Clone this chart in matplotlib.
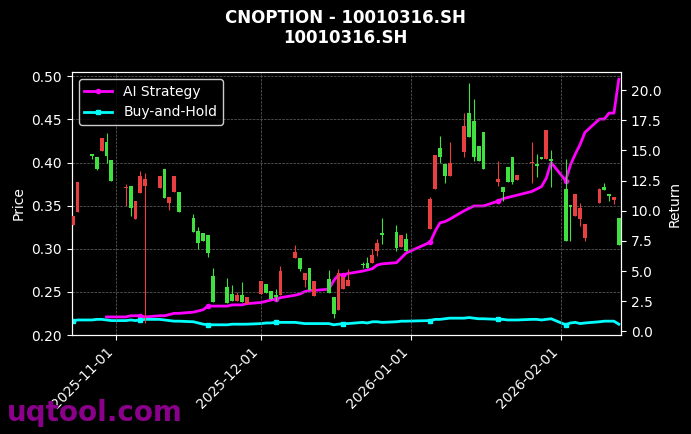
import numpy as np
import pandas as pd
import matplotlib
matplotlib.use("Agg")
import matplotlib.pyplot as plt
import matplotlib.dates as mdates

dates = [d for d in pd.bdate_range("2025-10-23", "2026-02-13")
         if d not in (pd.Timestamp("2026-01-01"), pd.Timestamp("2026-01-02"))]

# (color, body top, body bottom, high, low) ; None -> body edge
candles = [
 ("R",.338,.328,None,None),("R",.378,.343,None,None),("G",.409,.408,.410,.404),("G",.406,.393,None,.391),
 ("R",.429,.413,None,None),("G",.424,.408,.434,.399),("G",.403,.379,None,None),
 ("R",.372,.370,.375,.350),("G",.373,.347,None,.338),("R",.356,.335,None,None),("R",.385,.365,.390,None),("R",.381,.373,.388,.214),
 ("R",.384,.371,None,None),("G",.393,.359,None,None),("R",.360,.353,None,.345),("R",.385,.366,None,None),("G",.366,.343,None,None),
 ("G",.336,.320,.340,None),("G",.321,.307,.325,.300),("G",.318,.309,None,None),("G",.316,.295,None,.290),("G",.269,.238,.278,None),
 ("G",.256,.237,.266,None),("G",.248,.240,.258,None),("R",.247,.240,.250,None),("G",.247,.238,.262,None),("R",.244,.236,None,None),
 ("R",.263,.248,None,None),("G",.259,.249,None,None),("G",.251,.242,None,None),("G",.246,.244,.253,.240),("R",.274,.247,.280,None),
 ("R",.296,.289,.304,None),("G",.289,.277,None,.274),("R",.272,.264,None,.256),("G",.278,.252,None,None),("R",.263,.245,None,None),
 ("G",.265,.249,.275,None),("G",.244,.224,None,.220),("R",.272,.229,.277,None),("R",.267,.253,None,None),("R",.264,.257,.277,None),
 ("G",.282,.281,.285,.278),("G",.283,.278,.290,None),("R",.293,.284,.300,None),("R",.307,.297,.311,.292),("G",.318,.316,.336,.306),
 ("G",.319,.301,.328,.298),("R",.316,.302,None,None),("G",.311,.298,.318,None),
 ("R",.358,.323,.360,None),("R",.409,.369,None,None),("G",.417,.407,.431,.399),("G",.398,.384,None,.376),("R",.400,.384,.424,None),
 ("R",.442,.412,.458,.406),("G",.457,.430,.492,None),("G",.448,.407,.474,.402),("G",.419,.402,None,None),("G",.435,.393,None,None),
 ("R",.381,.378,.402,.373),("G",.372,.366,None,.356),("G",.395,.378,None,None),("G",.406,.378,None,.375),("R",.386,.380,None,None),
 ("R",.401,.399,.424,.376),("G",.398,.396,.410,.383),("G",.406,.404,None,None),("R",.438,.404,None,None),("G",.404,.402,.415,.372),
 ("G",.369,.309,.404,None),("G",.351,.349,.351,.309),("R",.363,.338,None,None),("R",.347,.335,.353,.327),("R",.329,.312,None,.309),
 ("R",.369,.353,.370,None),("G",.372,.368,.376,None),("G",.363,.361,None,.356),("R",.360,.357,None,.352),("G",.336,.305,None,None),
]

ai_ret = [np.nan]*5 + [1.2,1.2,
 1.2,1.3,1.3,1.3,1.2, 1.3,1.3,1.4,1.5,1.5, 1.6,1.7,1.8,2.1,2.1, 2.1,2.2,2.2,2.2,2.3,
 2.4,2.5,2.6,2.7,2.8, 3.0,3.1,3.3,3.4,3.4, 3.5,4.2,4.7,4.7,4.8, 5.0,5.1,5.2,5.5,5.6, 5.7,6.1,6.5,
 7.4,8.3,9.0,9.1,9.3, 10.0,10.2,10.4,10.4,10.4, 10.8,11.0,11.1,11.2,11.3, 11.6,11.8,12.0,12.7,14.0,
 12.5,13.8,14.7,15.5,16.5, 17.6,17.6,18.1,18.1,20.9]
bh_ret = [0.85,0.95,0.95,1.0,1.0,0.95,0.9,
 0.9,0.95,0.9,0.95,1.0, 1.0,0.95,0.9,0.85,0.85, 0.8,0.7,0.6,0.55,0.55, 0.55,0.6,0.6,0.6,0.6,
 0.65,0.7,0.7,0.75,0.75, 0.75,0.7,0.65,0.65,0.65, 0.65,0.55,0.6,0.65,0.65, 0.75,0.7,0.8,0.8,0.75, 0.8,0.85,0.85,
 0.9,1.0,1.0,1.05,1.1, 1.1,1.15,1.1,1.05,1.05, 1.0,1.0,0.95,0.95,0.95, 1.0,1.0,0.95,1.0,1.05,
 0.55,0.7,0.75,0.65,0.7, 0.8,0.85,0.85,0.85,0.6]

plt.rcParams['font.family'] = ['DejaVu Sans']
fig = plt.figure(figsize=(6.91, 4.34), dpi=100, facecolor="black")
ax = fig.add_axes([0.104, 0.228, 0.795, 0.606], facecolor="black")
x = mdates.date2num(dates)
for xi, (c, top, bot, h, l) in zip(x, candles):
    col = "#e84040" if c == "R" else "#40e040"
    h = top if h is None else h
    l = bot if l is None else l
    ax.vlines(xi, l, h, color=col, lw=0.8, zorder=2)
    ax.bar(xi, max(top-bot, 0.0015), bottom=bot, width=0.8, color=col, zorder=3)
ax.set_ylim(0.2, 0.505)
ax.set_xlim(mdates.date2num(pd.Timestamp("2025-10-22 20:00")), mdates.date2num(pd.Timestamp("2026-02-13 12:00")))
ax.set_ylabel("Price", color="white")
ax.grid(True, color="#666666", ls="--", lw=0.5)
ax.xaxis.set_major_locator(mdates.MonthLocator())
ax.xaxis.set_major_formatter(mdates.DateFormatter("%Y-%m-%d"))
plt.setp(ax.get_xticklabels(), rotation=45, ha="right")
ax2 = ax.twinx()
l1, = ax2.plot(x, ai_ret, color="#ff00ff", lw=2, marker="o", ms=3, markevery=10, label="AI Strategy")
l2, = ax2.plot(x, bh_ret, color="#00ffff", lw=2, marker="s", ms=3, markevery=10, label="Buy-and-Hold")
ax2.set_ylim(-0.3, 21.5)
ax2.set_ylabel("Return", color="white")
for a in (ax, ax2):
    a.tick_params(colors="white")
    for s in a.spines.values():
        s.set_color("white")
leg = ax.legend([l1, l2], ["AI Strategy", "Buy-and-Hold"], loc="upper left", facecolor="black", edgecolor="white", labelcolor="white")
ax.set_zorder(ax2.get_zorder()+1); ax.patch.set_visible(False)
fig.suptitle("CNOPTION - 10010316.SH\n10010316.SH", color="white", fontweight="bold", fontsize=12, y=0.98)
fig.text(0.01, 0.03, "uqtool.com", color="#8b008b", fontsize=20, fontweight="bold")
fig.savefig("out.png", dpi=100, facecolor="black")
